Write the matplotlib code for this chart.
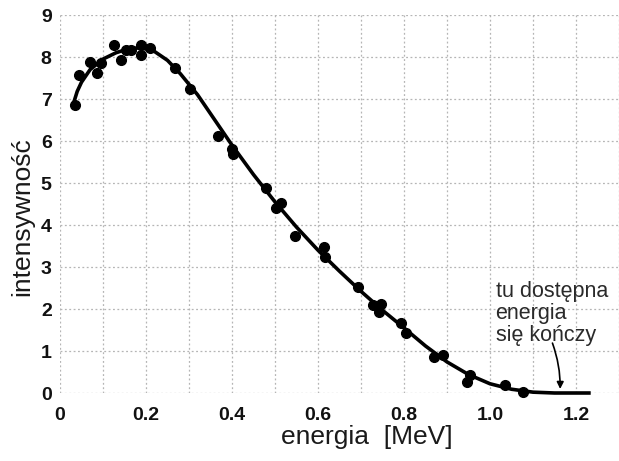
import matplotlib
matplotlib.use("Agg")
import matplotlib.pyplot as plt
import numpy as np

# measured points
point_x = [0.034, 0.044, 0.069, 0.085, 0.096, 0.126, 0.142, 0.153, 0.165, 0.188, 0.188, 0.21,
           0.268, 0.303, 0.368, 0.40, 0.402, 0.478, 0.513, 0.503, 0.547, 0.614, 0.616, 0.692,
           0.729, 0.747, 0.743, 0.793, 0.805, 0.869, 0.89, 0.954, 0.947, 1.034, 1.076]
point_y = [6.85, 7.56, 7.87, 7.63, 7.85, 8.29, 7.94, 8.17, 8.17, 8.29, 8.05, 8.22,
           7.73, 7.25, 6.11, 5.80, 5.68, 4.88, 4.52, 4.40, 3.74, 3.48, 3.24, 2.52,
           2.09, 2.13, 1.92, 1.66, 1.42, 0.85, 0.90, 0.43, 0.26, 0.19, 0.03]

# fitted curve
curve_x = [0.03, 0.04, 0.05, 0.07, 0.10, 0.13, 0.16, 0.19, 0.22, 0.25, 0.28, 0.32, 0.36, 0.40,
           0.45, 0.50, 0.55, 0.60, 0.65, 0.70, 0.75, 0.80, 0.85, 0.90, 0.95, 1.00, 1.05,
           1.10, 1.15, 1.23]
curve_y = [6.85, 7.18, 7.40, 7.70, 7.95, 8.10, 8.20, 8.22, 8.13, 7.92, 7.60, 7.10, 6.50, 5.90,
           5.20, 4.55, 3.95, 3.40, 2.90, 2.42, 1.97, 1.55, 1.12, 0.74, 0.44, 0.22, 0.09,
           0.02, 0.0, 0.0]

x_ticks = [0, 0.2, 0.4, 0.6, 0.8, 1.0, 1.2]
x_tick_labels = ["0", "0.2", "0.4", "0.6", "0.8", "1.0", "1.2"]
y_ticks = [0, 1, 2, 3, 4, 5, 6, 7, 8, 9]

plt.rcParams['font.family'] = ['Liberation Sans', 'DejaVu Sans']

fig = plt.figure(figsize=(6.19, 4.61), dpi=100)
ax = fig.add_axes([60/619, 68/461, 559/619, 378/461])
ax.set_xlim(0, 559/435)
ax.set_ylim(0, 9)

ax.set_xticks(np.arange(0, 1.31, 0.1), minor=True)
ax.set_xticks(x_ticks)
ax.set_xticklabels(x_tick_labels, fontsize=14, fontweight='bold', color='#111111')
ax.set_yticks(y_ticks)
ax.set_yticklabels([str(v) for v in y_ticks], fontsize=14, fontweight='bold', color='#111111')
ax.tick_params(axis='both', which='both', length=0)
ax.tick_params(axis='x', pad=10)
ax.tick_params(axis='y', pad=6)

ax.grid(True, which='both', axis='x', linestyle=(0, (1.5, 2)), color='#b5b5b5', linewidth=0.9)
ax.grid(True, which='major', axis='y', linestyle=(0, (1.5, 2)), color='#b5b5b5', linewidth=0.9)
for s in ax.spines.values():
    s.set_visible(False)

ax.plot(curve_x, curve_y, color='black', linewidth=2.6, clip_on=False, zorder=3)
ax.plot(point_x, point_y, 'o', color='black', markersize=7, clip_on=False, zorder=4)

ax.text(1.013, 1.9, "tu dostępna\nenergia\nsię kończy", fontsize=15.5, ha='left', va='center',
        linespacing=1.05, color='#2a2a2a')
ax.annotate("", xy=(1.163, 0.03), xytext=(1.143, 1.25),
            arrowprops=dict(arrowstyle='-|>', color='black', lw=1.2,
                            connectionstyle='arc3,rad=-0.1', mutation_scale=10))

fig.text(367/619, 1 - 437/461, "energia  [MeV]", fontsize=19, ha='center', va='center',
         color='#1a1a1a')
fig.text(22/619, 1 - 217/461, "intensywność", fontsize=19, ha='center', va='center',
         rotation=90, color='#1a1a1a')

fig.savefig("out.png", dpi=100)
